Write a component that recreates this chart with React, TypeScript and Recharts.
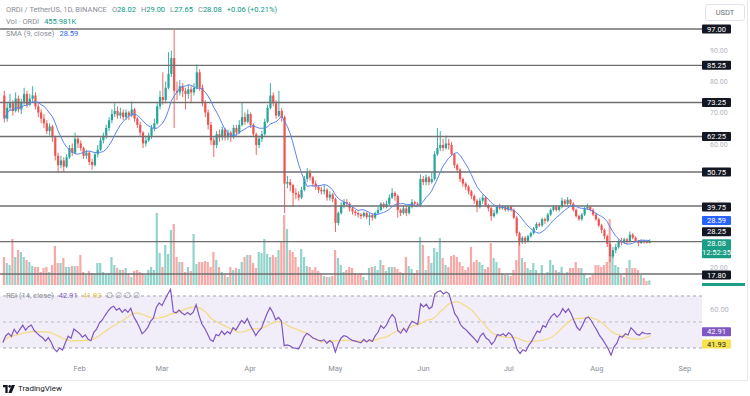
import React from 'react';
import { ComposedChart, Bar, Line, XAxis, YAxis, ReferenceLine, ReferenceArea, Cell } from 'recharts';

// day 0 = Jan 1 2024, one candle per day
const firstDay = 4;
const firstOpen = 75.5;

const closes = [
  68, 71.5, 73, 70.5, 74.5, 71, 73.5, 76, 72.5, 74.5,
  75.5, 72, 70, 68, 66.5, 64, 65.5, 62, 56, 53,
  54.5, 52.5, 55.5, 58.5, 57, 61.5, 60, 58.5, 56, 57,
  54, 53, 56.5, 58, 61, 62.5, 65, 67.5, 69.5, 70.5,
  69, 70, 68.5, 70, 69, 71, 68, 66, 63.5, 60,
  61, 62.5, 65, 66.5, 72, 75, 74, 78, 82.5, 87.6,
  77, 76.5, 78.5, 77, 76, 77.5, 76.5, 78, 83, 78,
  73, 70, 66, 61, 59.5, 63, 62, 64.5, 62, 63.5,
  62, 65, 63.5, 66, 68.5, 67, 69.5, 66, 63, 59.5,
  61.5, 63, 67, 71.5, 75.5, 73, 69, 70.5, 68.5, 47,
  47.5, 46.5, 44, 43.5, 42.5, 45, 48.5, 50.5, 49, 47,
  46, 45, 44.5, 45, 42.5, 43.5, 42, 34.3, 37.5, 40,
  41, 40.5, 39, 38, 37.5, 37, 36.5, 37.5, 36.2, 36.8,
  36, 37.5, 38.5, 40.5, 39.5, 40.5, 42.5, 44, 43, 38.5,
  37.5, 39, 37.5, 39.5, 41, 40.5, 40, 48.5, 47.5, 49,
  47.5, 48.5, 56.5, 58.5, 59.5, 58.5, 60, 59.5, 56.5, 53,
  51.5, 48.5, 47, 46, 44.5, 43, 41.5, 39.5, 41.5, 42.5,
  40, 39, 36.5, 37.5, 39.5, 39, 39.5, 38.5, 39.5, 38.5,
  36, 31, 28.5, 29.5, 28.5, 30, 31, 32.5, 34, 33.5,
  35.5, 35, 37, 38.5, 39.5, 38.5, 39.5, 41.5, 40.5, 41.8,
  40.5, 38.5, 36.5, 35.5, 37, 39, 39.5, 38.5, 37, 35.5,
  33.5, 32, 30, 27.5, 23.5, 25.5, 26.5, 28.5, 28, 29,
  28.5, 30.5, 29.5, 28.2, 27.8, 28.5, 28.1, 28.02, 28.08,
];

const highs = [
  77, 73, 76, 74, 76.5, 75.5, 74.5, 78, 77, 76,
  78.5, 76.5, 73, 71, 69.5, 67.5, 66.5, 66, 62.5, 57,
  56, 55.5, 56.5, 59.5, 60, 63.5, 62.5, 61, 59, 58,
  57.5, 55, 57, 59.5, 62, 63.5, 66, 68.5, 71, 73,
  72, 71.5, 71, 71, 70.5, 73.5, 71.5, 68.5, 67, 64,
  62.5, 63.5, 66, 68, 73, 77, 83, 80, 89.5, 90,
  96.7, 80, 80.5, 79.5, 78, 79, 78.5, 79.5, 85.5, 84,
  79, 74, 71, 67, 62, 64, 64.5, 65.5, 65, 64.5,
  64, 66, 66, 67.5, 73.4, 70, 71, 70, 66.5, 63.5,
  62.5, 64, 68, 72.5, 79.5, 76.5, 74, 77, 71.5, 69,
  49.5, 48.5, 47, 45.5, 44.5, 46, 49.5, 52, 51.5, 49.5,
  48, 46.5, 46, 46.5, 45.5, 44.5, 44, 42.5, 38, 41,
  42, 42, 41, 39.5, 38.5, 38, 37.5, 38, 38, 37.5,
  37.5, 38, 39.5, 41, 41, 41.5, 43.5, 45.5, 44.5, 43.5,
  39, 40, 39.5, 40, 42, 41.5, 41, 50, 49.5, 50,
  49.5, 50.5, 57.5, 65, 64, 61.5, 62.5, 61.5, 60.5, 57,
  53.5, 52, 49, 47.5, 46.5, 45, 43.5, 42, 42.5, 43.5,
  43, 40.5, 39.5, 38.5, 40, 40.5, 40, 40, 40, 40,
  39, 36.5, 31.5, 30, 30, 30.5, 31.5, 33, 34.5, 34.5,
  36, 36, 37.5, 39, 40, 40, 40, 42.5, 42, 42.7,
  42, 41, 39, 37, 37.5, 39.5, 40.5, 40, 39, 37.5,
  36, 34, 32.5, 30.5, 28, 26.5, 27.5, 29, 29.5, 29.5,
  29.5, 31.5, 31, 30, 28.8, 29, 28.9, 28.6, 29,
];

const lows = [
  66.8, 67, 70.5, 69, 70, 70, 69.5, 72.5, 71.5, 72,
  73.5, 71, 68.5, 66.5, 65, 63, 62.5, 60.5, 54.5, 50.4,
  52, 50.8, 52, 55, 56, 56.5, 58.5, 57.5, 55, 55,
  53, 51.5, 52.5, 55.5, 57.5, 60, 61.5, 64, 66.5, 68.5,
  68, 68, 67.5, 67.5, 67.5, 68.5, 67, 65, 62.5, 58.5,
  59, 60.5, 61.5, 64, 66, 71, 72.5, 73, 77.5, 81.5,
  65, 74, 75.5, 75, 71, 74.5, 73, 75.5, 77.5, 77,
  72, 68.5, 64.5, 59.5, 55.6, 58.5, 60.5, 61, 61, 61,
  60.5, 61.5, 62.5, 63, 65.5, 66, 66.5, 65, 62, 56.3,
  58.5, 60.5, 62.5, 66.5, 71, 72, 68, 68.5, 67, 37.5,
  45.5, 44.5, 39.5, 42, 41.5, 42, 44.5, 47.5, 48, 46,
  45, 44, 43.5, 43.5, 41.5, 41.5, 41, 31.4, 33.5, 37,
  39, 39.5, 38, 37, 36.5, 36, 35.5, 36, 35.5, 33.6,
  35, 35.5, 37, 38, 39, 39, 40, 42, 41.5, 36,
  36.5, 37, 36.5, 37, 39, 39.5, 39.5, 39.5, 46.5, 46.5,
  46.5, 47, 48, 56, 57.5, 57.5, 58, 58, 56, 52,
  50.5, 47.5, 46, 45, 43.5, 42, 40.5, 37.8, 39, 40.5,
  39.5, 38, 35, 36, 37, 38.5, 38.5, 38, 38, 38,
  35.5, 30, 27, 27.5, 27.5, 28, 29.5, 30.5, 32, 33,
  33, 34, 34.5, 36.5, 38, 38, 38, 39, 40, 40,
  40, 38, 36, 35, 35, 36.5, 38.5, 38, 36.5, 35,
  33, 31, 29, 26.5, 21.5, 23, 24.5, 26, 27, 27.5,
  27.5, 28, 29, 28, 26.8, 27.5, 27.6, 27.7, 27.65,
];

// millions of ORDI
const volumes = [
  2.8, 2.2, 2.0, 4.6, 2.8, 3.5, 3.3, 2.8, 2.5, 2.3,
  1.9, 1.8, 1.8, 1.3, 1.7, 1.8, 1.3, 2.0, 3.9, 2.2,
  2.2, 2.7, 1.8, 1.8, 1.9, 1.9, 1.9, 3.0, 1.3, 1.0,
  1.4, 1.2, 1.1, 2.2, 2.2, 1.3, 1.1, 1.2, 2.8, 2.0,
  1.7, 1.5, 1.5, 1.7, 1.2, 0.8, 1.4, 1.5, 1.3, 1.2,
  1.0, 1.5, 1.8, 1.5, 7.2, 3.2, 1.8, 4.0, 3.1, 5.5,
  6.1, 2.8, 2.3, 2.3, 1.3, 1.8, 1.4, 5.1, 2.1, 2.3,
  2.3, 2.4, 2.3, 1.8, 3.3, 2.5, 1.8, 1.3, 1.0, 0.8,
  1.8, 1.5, 1.7, 1.6, 2.3, 2.8, 3.0, 3.0, 2.2, 1.7,
  3.3, 3.2, 4.6, 3.1, 2.8, 3.0, 2.8, 3.5, 4.3, 7.0,
  5.6, 3.5, 3.3, 2.8, 1.8, 3.6, 2.8, 1.9, 1.8, 1.5,
  1.8, 1.4, 1.1, 0.9, 0.8, 0.8, 0.9, 3.5, 2.7, 2.0,
  1.3, 1.5, 1.8, 1.7, 1.2, 1.1, 1.2, 0.8, 0.5, 1.7,
  1.8, 1.9, 1.5, 2.5, 2.0, 1.4, 1.8, 1.8, 1.8, 1.6,
  1.3, 1.2, 2.8, 1.9, 1.6, 1.2, 1.5, 4.8, 4.0, 1.5,
  2.9, 2.2, 3.7, 3.3, 4.7, 2.7, 2.0, 1.8, 2.9, 3.0,
  2.8, 2.3, 1.9, 1.5, 1.8, 3.8, 2.3, 2.5, 2.3, 2.0,
  1.6, 1.8, 4.2, 2.7, 2.3, 1.7, 1.2, 1.0, 1.0, 0.9,
  1.5, 2.5, 4.7, 2.7, 2.3, 1.7, 1.5, 2.2, 1.5, 1.0,
  2.0, 1.0, 1.3, 2.5, 2.0, 1.5, 1.3, 1.8, 1.0, 1.3,
  1.7, 1.7, 2.3, 1.7, 1.7, 1.2, 0.7, 0.8, 1.0, 2.0,
  2.0, 1.8, 2.0, 2.3, 6.6, 3.0, 2.0, 1.8, 1.0, 0.8,
  1.7, 2.5, 1.7, 1.7, 1.5, 1.0, 0.7, 0.4, 0.46,
];

const axisFirstDay = 3;
const axisLastDay = 250;
const monthDays = [31, 60, 91, 121, 152, 182, 213, 244];
const monthNames = ['Feb', 'Mar', 'Apr', 'May', 'Jun', 'Jul', 'Aug', 'Sep'];
const levels = [97, 85.25, 73.25, 62.25, 50.75, 39.75, 28.25, 17.8];
const priceTicks = [20, 60, 70, 80, 90];
const lastSma = 28.59;
const lastClose = 28.08;
const lastRsi = 42.91;
const lastRsiMa = 41.93;

const FONT = 'Roboto, "Liberation Sans", sans-serif';
const UP = '#26a69a';
const DOWN = '#ef5350';
const UP_VOL = '#92d3cc';
const DOWN_VOL = '#f7a9a7';

// indicators derived from the closes
const sma = closes.map((_, i) => {
  const win = closes.slice(Math.max(0, i - 8), i + 1);
  return win.reduce((a, b) => a + b, 0) / win.length;
});

const rsi = (() => {
  const n = 14;
  const ch = closes.map((c, i) => c - (i === 0 ? firstOpen : closes[i - 1]));
  let ag = 0;
  let al = 0;
  ch.slice(0, n).forEach((d) => {
    if (d > 0) ag += d;
    else al -= d;
  });
  ag /= n;
  al /= n;
  return ch.map((d) => {
    ag = (ag * (n - 1) + Math.max(d, 0)) / n;
    al = (al * (n - 1) + Math.max(-d, 0)) / n;
    return al === 0 ? 100 : 100 - 100 / (1 + ag / al);
  });
})();

const rsiMa = rsi.map((_, i) => {
  const win = rsi.slice(Math.max(0, i - 13), i + 1);
  return win.reduce((a, b) => a + b, 0) / win.length;
});

type Row = {
  day: number;
  o?: number;
  h?: number;
  l?: number;
  c?: number;
  v?: number;
  sma?: number;
  rsi?: number;
  rsiMa?: number;
};

const rows: Row[] = [];
for (let day = axisFirstDay; day <= axisLastDay; day++) {
  const i = day - firstDay;
  if (i >= 0 && i < closes.length) {
    rows.push({
      day,
      o: i === 0 ? firstOpen : closes[i - 1],
      h: highs[i],
      l: lows[i],
      c: closes[i],
      v: volumes[i],
      sma: sma[i],
      rsi: rsi[i],
      rsiMa: rsiMa[i],
    });
  } else {
    rows.push({ day });
  }
}

const Candle = (props: any) => {
  const { x, y, width, height, payload } = props;
  if (!payload || payload.c == null) return null;
  const { o, h, l, c } = payload;
  const top = Math.min(y, y + height);
  const span = Math.abs(height);
  const py = (v: number) => top + (h === l ? 0 : ((h - v) / (h - l)) * span);
  const cx = x + width / 2;
  const color = c >= o ? UP : DOWN;
  const bTop = py(Math.max(o, c));
  const bBot = py(Math.min(o, c));
  return (
    <g>
      <line x1={cx} x2={cx} y1={top} y2={top + span} stroke={color} strokeWidth={0.9} />
      <rect x={cx - 1.1} y={bTop} width={2.2} height={Math.max(0.8, bBot - bTop)} fill={color} />
    </g>
  );
};

const PriceTag = (props: any) => {
  const { viewBox, text, sub, bg, color = '#ffffff', dy = 0 } = props;
  if (!viewBox) return null;
  const x = viewBox.x + viewBox.width;
  const y = viewBox.y + dy;
  const h = sub ? 19 : 9;
  return (
    <g>
      <rect x={x} y={y - 4.5} width={29} height={h} fill={bg} rx={1} />
      <text x={x + 14.5} y={y} dy="0.35em" textAnchor="middle" fontSize={7.5} fontFamily={FONT} fill={color}>
        {text}
      </text>
      {sub && (
        <text x={x + 14.5} y={y + 9} dy="0.35em" textAnchor="middle" fontSize={7.5} fontFamily={FONT} fill={color}>
          {sub}
        </text>
      )}
    </g>
  );
};

const MonthTick = (props: any) => {
  const idx = monthDays.indexOf(props.payload.value);
  if (idx < 0) return <g />;
  return (
    <text x={props.x} y={props.y} dy="0.71em" textAnchor="middle" fontSize={7.5} fontFamily={FONT} fill="#8c8f99">
      {monthNames[idx]}
    </text>
  );
};

const PriceAxisTick = (props: any) => {
  const { x, y, payload } = props;
  // the 60 label sits just under the 62.25 tag, as in the reference
  const shift = payload.value === 60 ? 1.5 : 0;
  return (
    <text x={x} y={y + shift} dy="0.35em" textAnchor="start" fontSize={7} fontFamily={FONT} fill="#b2b5be">
      {Number(payload.value).toFixed(2)}
    </text>
  );
};

const axisTick = { fontSize: 7.5, fontFamily: FONT, fill: '#b2b5be' };
const gray = '#8a8d96';
const teal = '#089981';

export default function App() {
  return (
    <div style={{ position: 'absolute', left: 0, top: 0, width: 750, height: 396, background: '#fff', overflow: 'hidden', fontFamily: FONT }}>
      <div style={{ position: 'absolute', left: 0, top: 0, width: 747, height: 380, borderRight: '1px solid #e6e8ee', borderBottom: '1px solid #e6e8ee' }} />

      {/* volume, behind the candles */}
      <div style={{ position: 'absolute', left: 0, top: 0 }}>
        <ComposedChart width={750} height={286} data={rows} margin={{ top: 20, right: 48, bottom: 1, left: 0 }} barCategoryGap={0}>
          <XAxis dataKey="day" hide />
          <YAxis hide domain={[0, 26.5]} allowDataOverflow />
          <Bar dataKey="v" barSize={2.2} isAnimationActive={false}>
            {rows.map((r) => (
              <Cell key={r.day} fill={r.c != null && r.o != null && r.c >= r.o ? UP_VOL : DOWN_VOL} />
            ))}
          </Bar>
        </ComposedChart>
      </div>

      {/* price pane */}
      <div style={{ position: 'absolute', left: 0, top: 0 }}>
        <ComposedChart width={750} height={286} data={rows} margin={{ top: 20, right: 0, bottom: 1, left: 0 }} barCategoryGap={0}>
          <XAxis dataKey="day" hide />
          <YAxis
            orientation="right"
            width={48}
            domain={[14.23, 99.91]}
            allowDataOverflow
            ticks={priceTicks}
            tick={<PriceAxisTick />}
            tickLine={false}
            axisLine={false}
          />
          {levels.map((lv) => (
            <ReferenceLine
              key={lv}
              y={lv}
              stroke="#6f6f6f"
              strokeWidth={1.4}
              label={<PriceTag text={lv.toFixed(2)} bg="#131722" dy={lv === 28.25 ? -10 : lv === 17.8 || lv === 39.75 ? 1 : 0} />}
            />
          ))}
          <Bar dataKey={(d: Row) => (d.c == null ? null : [d.l, d.h])} shape={<Candle />} isAnimationActive={false} />
          <Line dataKey="sma" stroke="#5b84f0" strokeWidth={1} dot={false} activeDot={false} isAnimationActive={false} />
          <ReferenceLine y={lastSma} stroke="none" label={<PriceTag text={lastSma.toFixed(2)} bg="#2962ff" dy={-20} />} />
          <ReferenceLine y={lastClose} stroke="none" label={<PriceTag text={lastClose.toFixed(2)} sub="12:52:35" bg="#1a9e86" dy={1.5} />} />
        </ComposedChart>
      </div>

      {/* cut-off volume tag */}
      <div style={{ position: 'absolute', left: 702, top: 283, width: 43, height: 3, background: '#1a9e86' }} />

      {/* RSI pane + time axis */}
      <div style={{ position: 'absolute', left: 0, top: 287 }}>
        <ComposedChart width={750} height={93} data={rows} margin={{ top: 0, right: 0, bottom: 0, left: 0 }}>
          <XAxis dataKey="day" interval={0} height={22} tickLine={false} axisLine={false} tick={<MonthTick />} />
          <YAxis
            orientation="right"
            width={48}
            domain={[22.3, 76.9]}
            allowDataOverflow
            ticks={[60]}
            tickFormatter={(v: number) => v.toFixed(2)}
            tick={axisTick}
            tickLine={false}
            axisLine={false}
          />
          <ReferenceArea y1={30} y2={70} fill="#7e57c2" fillOpacity={0.1} stroke="none" />
          <ReferenceLine y={70} stroke="#a3a6af" strokeDasharray="3 3" />
          <ReferenceLine y={50} stroke="#b8bbc3" strokeDasharray="3 3" />
          <ReferenceLine y={30} stroke="#a3a6af" strokeDasharray="3 3" />
          <Line dataKey="rsiMa" stroke="#f2dc8c" strokeWidth={1.3} dot={false} activeDot={false} isAnimationActive={false} />
          <Line dataKey="rsi" stroke="#7e57c2" strokeWidth={1.2} dot={false} activeDot={false} isAnimationActive={false} />
          <ReferenceLine y={lastRsi} stroke="none" label={<PriceTag text={lastRsi.toFixed(2)} bg="#7e57c2" dy={0.5} />} />
          <ReferenceLine y={lastRsiMa} stroke="none" label={<PriceTag text={lastRsiMa.toFixed(2)} bg="#f7e34f" color="#131722" dy={11.5} />} />
        </ComposedChart>
      </div>

      {/* legends */}
      <div style={{ position: 'absolute', left: 6, top: 5, fontSize: 7.5, lineHeight: '10px', color: gray, whiteSpace: 'nowrap' }}>
        <span>ORDI / TetherUS, 1D, BINANCE</span>
        <span style={{ marginLeft: 5 }}>O<span style={{ color: teal }}>28.02</span></span>
        <span style={{ marginLeft: 5 }}>H<span style={{ color: teal }}>29.00</span></span>
        <span style={{ marginLeft: 5 }}>L<span style={{ color: teal }}>27.65</span></span>
        <span style={{ marginLeft: 5 }}>C<span style={{ color: teal }}>28.08</span></span>
        <span style={{ marginLeft: 5, color: teal }}>+0.06 (+0.21%)</span>
      </div>
      <div style={{ position: 'absolute', left: 6, top: 17, fontSize: 7.5, lineHeight: '10px', color: gray, whiteSpace: 'nowrap' }}>
        <span>Vol · ORDI</span>
        <span style={{ marginLeft: 5, color: teal }}>455.981K</span>
      </div>
      <div style={{ position: 'absolute', left: 6, top: 29, fontSize: 7.5, lineHeight: '10px', color: gray, whiteSpace: 'nowrap' }}>
        <span>SMA (9, close)</span>
        <span style={{ marginLeft: 5, color: '#2962ff' }}>28.59</span>
      </div>
      <div style={{ position: 'absolute', left: 6, top: 291, fontSize: 7.5, lineHeight: '10px', color: gray, whiteSpace: 'nowrap' }}>
        <span>RSI (14, close)</span>
        <span style={{ marginLeft: 5, color: '#7e57c2' }}>42.91</span>
        <span style={{ marginLeft: 5, color: '#e3c446' }}>41.93</span>
        <span style={{ marginLeft: 5 }}>∅ ∅ ∅ ∅</span>
      </div>

      {/* currency button */}
      <div style={{ position: 'absolute', left: 705, top: 4, width: 38, height: 15, border: '1px solid #e0e3eb', borderRadius: 3, fontSize: 7.5, color: '#6a6d78', textAlign: 'center', lineHeight: '15px' }}>
        USDT
      </div>

      {/* brand */}
      <div style={{ position: 'absolute', left: 3, top: 384, display: 'flex', alignItems: 'center', whiteSpace: 'nowrap' }}>
        <svg width={12} height={8} viewBox="0 0 36 24">
          <path d="M0 0h14v24H7V7H0z" fill="#131722" />
          <circle cx={20} cy={4} r={4} fill="#131722" />
          <path d="M26 0h10L26 24H16z" fill="#131722" />
        </svg>
        <span style={{ marginLeft: 3, fontSize: 8, color: '#131722' }}>TradingView</span>
      </div>
    </div>
  );
}
